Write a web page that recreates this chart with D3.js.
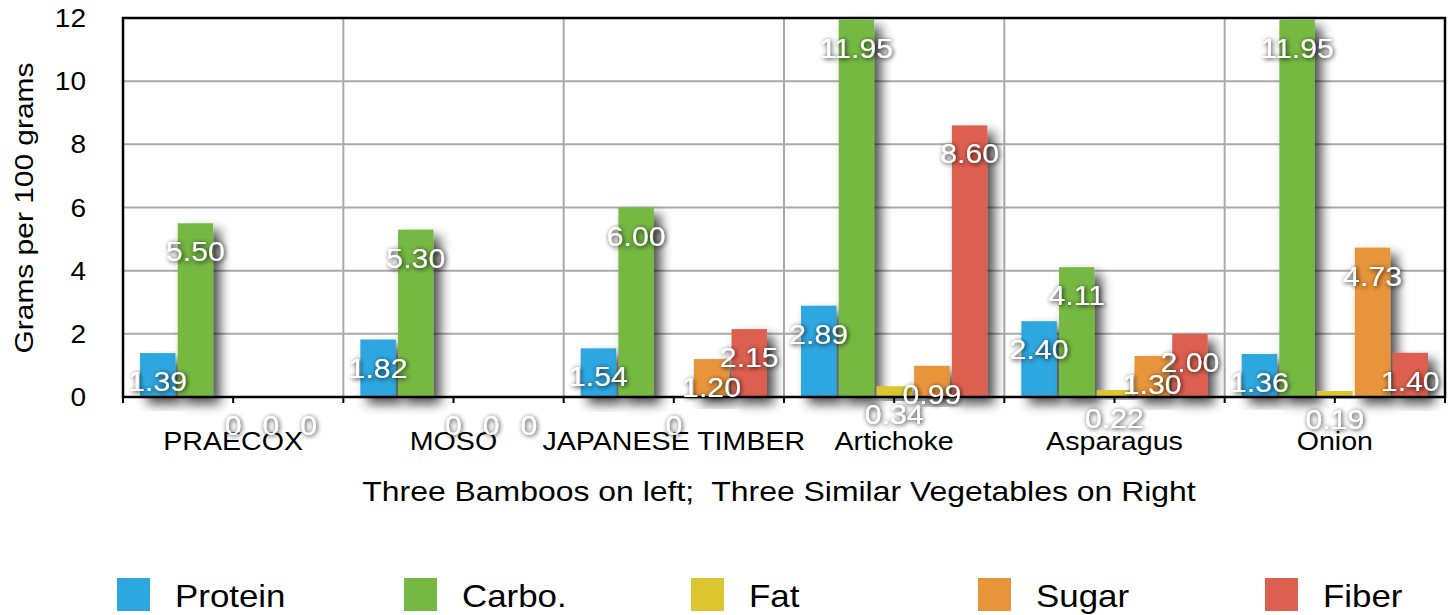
<!DOCTYPE html>
<html>
<head>
<meta charset="utf-8">
<script src="https://cdn.jsdelivr.net/npm/d3@7"></script>
<style>
  html, body { margin: 0; padding: 0; background: #fff; }
  svg { display: block; font-family: "Liberation Sans", Arial, Helvetica, sans-serif; }
</style>
</head>
<body>
<svg id="chart" width="1453" height="615"></svg>
<script>
// ---- data ----
const categories = ["PRAECOX", "MOSO", "JAPANESE TIMBER", "Artichoke", "Asparagus", "Onion"];
const seriesNames = ["Protein", "Carbo.", "Fat", "Sugar", "Fiber"];
const protein = [1.39, 1.82, 1.54, 2.89, 2.40, 1.36];
const carbo   = [5.50, 5.30, 6.00, 11.95, 4.11, 11.95];
const fat     = [0, 0, 0, 0.34, 0.22, 0.19];
const sugar   = [0, 0, 1.20, 0.99, 1.30, 4.73];
const fiber   = [0, 0, 2.15, 8.60, 2.00, 1.40];
const yTicks  = [0, 2, 4, 6, 8, 10, 12];
const seriesColors = ["#2ea6df", "#75b843", "#dcc52e", "#e8943a", "#dd5f50"];
const xTitle = "Three Bamboos on left;  Three Similar Vegetables on Right";
const yTitle = "Grams per 100 grams";

const seriesValues = [protein, carbo, fat, sugar, fiber];

// ---- layout ----
const svg = d3.select("#chart");
const L = 123, R = 1445, T = 18, B = 397;

function stretch(sel, f) {
  sel.each(function () {
    const len = this.getComputedTextLength();
    d3.select(this).attr("textLength", len * f).attr("lengthAdjust", "spacingAndGlyphs");
  });
}

const defs = svg.append("defs");
const fs = defs.append("filter").attr("id", "barShadow")
  .attr("x", "-60%").attr("y", "-20%").attr("width", "240%").attr("height", "150%");
fs.append("feGaussianBlur").attr("in", "SourceAlpha").attr("stdDeviation", 6).attr("result", "b");
fs.append("feOffset").attr("in", "b").attr("dx", 7).attr("dy", 7).attr("result", "o");
fs.append("feComponentTransfer").attr("in", "o").attr("result", "s")
  .append("feFuncA").attr("type", "linear").attr("slope", 0.7);
const fm = fs.append("feMerge");
fm.append("feMergeNode").attr("in", "s");
fm.append("feMergeNode").attr("in", "SourceGraphic");

const fl = defs.append("filter").attr("id", "labelGlow")
  .attr("x", "-30%").attr("y", "-40%").attr("width", "160%").attr("height", "180%");
fl.append("feGaussianBlur").attr("in", "SourceAlpha").attr("stdDeviation", 2.5).attr("result", "b");
fl.append("feOffset").attr("in", "b").attr("dx", 1).attr("dy", 1).attr("result", "o");
fl.append("feComponentTransfer").attr("in", "o").attr("result", "s")
  .append("feFuncA").attr("type", "linear").attr("slope", 0.9);
const fm2 = fl.append("feMerge");
fm2.append("feMergeNode").attr("in", "s");
fm2.append("feMergeNode").attr("in", "SourceGraphic");

const x0 = d3.scaleBand().domain(categories).range([L, R]).padding(0);
const bw = x0.bandwidth();
const x1 = d3.scaleBand().domain(seriesNames).range([17, bw - 17]).paddingInner(0.06);
const y = d3.scaleLinear().domain([0, 12]).range([B, T]);

// grid
const grid = svg.append("g");
grid.selectAll("line.h").data(yTicks.filter(d => d > 0 && d < 12)).join("line")
  .attr("x1", L).attr("x2", R).attr("y1", d => y(d)).attr("y2", d => y(d))
  .attr("stroke", "#aaaaaa").attr("stroke-width", 2);
grid.selectAll("line.v").data(categories.slice(1)).join("line")
  .attr("x1", d => x0(d)).attr("x2", d => x0(d)).attr("y1", T).attr("y2", B)
  .attr("stroke", "#aaaaaa").attr("stroke-width", 2);

// bars
const data = [];
categories.forEach((c, i) => seriesNames.forEach((s, j) => data.push({c, s, j, v: seriesValues[j][i]})));

svg.append("g").selectAll("rect").data(data).join("rect")
  .attr("x", d => x0(d.c) + x1(d.s))
  .attr("y", d => y(d.v))
  .attr("width", x1.bandwidth())
  .attr("height", d => B - y(d.v))
  .attr("fill", d => seriesColors[d.j])
  .attr("filter", d => d.v > 0 ? "url(#barShadow)" : null);

// frame
svg.append("rect").attr("x", L).attr("y", T).attr("width", R - L).attr("height", B - T)
  .attr("fill", "none").attr("stroke", "#000").attr("stroke-width", 2.5);

// x axis ticks
const tickXs = [];
categories.forEach(c => { tickXs.push(x0(c)); tickXs.push(x0(c) + bw / 2); });
tickXs.push(R);
svg.append("g").selectAll("line").data(tickXs).join("line")
  .attr("x1", d => d).attr("x2", d => d).attr("y1", B).attr("y2", B + 6)
  .attr("stroke", "#000").attr("stroke-width", 2);

// y tick labels
svg.append("g").selectAll("text").data(yTicks).join("text")
  .attr("x", 86).attr("y", d => y(d) + 9)
  .attr("text-anchor", "end").attr("font-size", 25).attr("fill", "#000")
  .text(d => d)
  .call(stretch, 1.12);

// category labels
svg.append("g").selectAll("text").data(categories).join("text")
  .attr("x", d => x0(d) + bw / 2).attr("y", 450)
  .attr("text-anchor", "middle").attr("font-size", 26).attr("fill", "#000")
  .text(d => d)
  .call(stretch, 1.1);

// axis titles
svg.append("text").attr("x", 779).attr("y", 501).attr("text-anchor", "middle")
  .style("white-space", "pre")
  .attr("font-size", 28).attr("fill", "#000").text(xTitle)
  .call(stretch, 1.14);
svg.append("text").attr("transform", "translate(33,208) rotate(-90)")
  .attr("text-anchor", "middle").attr("font-size", 26).attr("fill", "#000").text(yTitle)
  .call(stretch, 1.15);

// value labels
svg.append("g").selectAll("text").data(data).join("text")
  .attr("x", d => x0(d.c) + x1(d.s) + x1.bandwidth() / 2)
  .attr("y", d => y(d.v) + 38)
  .attr("text-anchor", "middle").attr("font-size", 28).attr("fill", "#fff")
  .attr("filter", "url(#labelGlow)")
  .text(d => d.v === 0 ? "0" : d.v.toFixed(2))
  .call(stretch, 1.08);

// legend
const lg = svg.append("g").selectAll("g").data(seriesNames).join("g")
  .attr("transform", (d, i) => `translate(${117 + i * 287},578)`);
lg.append("rect").attr("width", 33).attr("height", 33).attr("fill", (d, i) => seriesColors[i]);
lg.append("text").attr("x", 58).attr("y", 29).attr("font-size", 32).attr("fill", "#000").text(d => d)
  .call(stretch, 1.09);
</script>
</body>
</html>
